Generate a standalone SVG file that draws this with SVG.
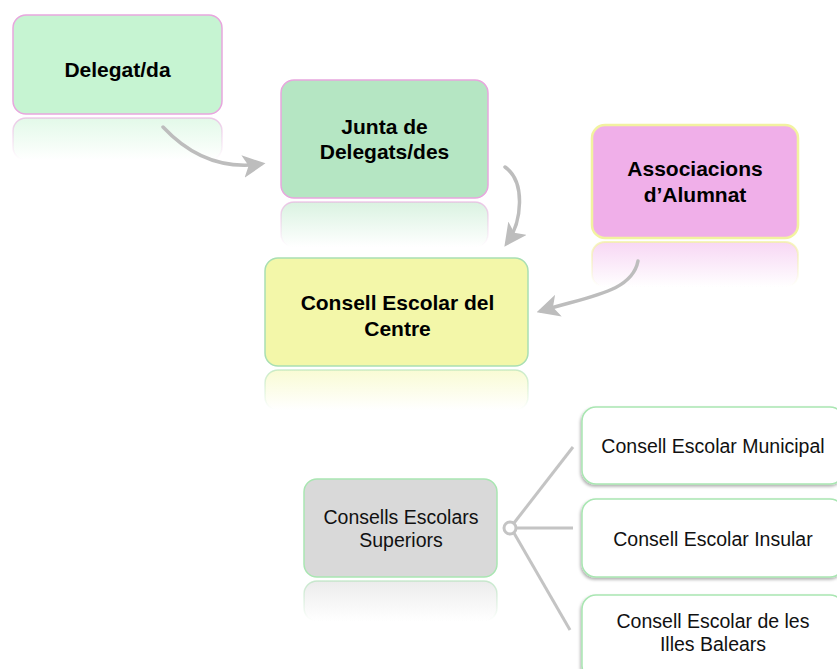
<svg xmlns="http://www.w3.org/2000/svg" width="837" height="669" viewBox="0 0 837 669">
<style>
.b{font-family:"Liberation Sans",Arial,sans-serif;font-weight:bold;font-size:21px;fill:#000;text-anchor:middle}
.n{font-family:"Liberation Sans",Arial,sans-serif;font-size:19.5px;fill:#111;text-anchor:middle}
.con{fill:none;stroke:#bdbdbd;stroke-width:3.5;stroke-linecap:round}
.ln{fill:none;stroke:#c4c4c4;stroke-width:3}
</style>
<defs>
<marker id="ah" viewBox="0 0 10 10" refX="8" refY="5" markerWidth="6.5" markerHeight="6.5" orient="auto" markerUnits="strokeWidth">
<path d="M0,0 L10,5 L0,10 L2.5,5 Z" fill="#bdbdbd"/>
</marker>
<filter id="sh" x="-10%" y="-10%" width="130%" height="140%">
<feDropShadow dx="-1" dy="2" stdDeviation="1.5" flood-color="#000" flood-opacity="0.3"/>
</filter>
<linearGradient id="rg1" x1="0" y1="0" x2="0" y2="1"><stop offset="0" stop-color="#c6f4d2" stop-opacity="0.5"/><stop offset="1" stop-color="#c6f4d2" stop-opacity="0"/></linearGradient>
<linearGradient id="rg2" x1="0" y1="0" x2="0" y2="1"><stop offset="0" stop-color="#b5e6c3" stop-opacity="0.5"/><stop offset="1" stop-color="#b5e6c3" stop-opacity="0"/></linearGradient>
<linearGradient id="rg3" x1="0" y1="0" x2="0" y2="1"><stop offset="0" stop-color="#f0afe9" stop-opacity="0.5"/><stop offset="1" stop-color="#f0afe9" stop-opacity="0"/></linearGradient>
<linearGradient id="rg4" x1="0" y1="0" x2="0" y2="1"><stop offset="0" stop-color="#f3f7a9" stop-opacity="0.5"/><stop offset="1" stop-color="#f3f7a9" stop-opacity="0"/></linearGradient>
<linearGradient id="rg5" x1="0" y1="0" x2="0" y2="1"><stop offset="0" stop-color="#d9d9d9" stop-opacity="0.5"/><stop offset="1" stop-color="#d9d9d9" stop-opacity="0"/></linearGradient>
<linearGradient id="sp" x1="0" y1="0" x2="0" y2="1"><stop offset="0" stop-color="#e8a6de" stop-opacity="0.6"/><stop offset="1" stop-color="#e8a6de" stop-opacity="0"/></linearGradient>
<linearGradient id="sy" x1="0" y1="0" x2="0" y2="1"><stop offset="0" stop-color="#f2f2a0" stop-opacity="0.7"/><stop offset="1" stop-color="#f2f2a0" stop-opacity="0"/></linearGradient>
<linearGradient id="sg" x1="0" y1="0" x2="0" y2="1"><stop offset="0" stop-color="#a9dfb2" stop-opacity="0.6"/><stop offset="1" stop-color="#a9dfb2" stop-opacity="0"/></linearGradient>
</defs>

<g id="reflections">
<rect x="13" y="118" width="209" height="42" rx="13" fill="url(#rg1)" stroke="url(#sp)" stroke-width="1.5"/>
<rect x="281" y="202" width="207" height="45" rx="13" fill="url(#rg2)" stroke="url(#sp)" stroke-width="1.5"/>
<rect x="592" y="242" width="206" height="45" rx="13" fill="url(#rg3)" stroke="url(#sy)" stroke-width="2"/>
<rect x="265" y="370" width="263" height="40" rx="13" fill="url(#rg4)" stroke="url(#sg)" stroke-width="1.5"/>
<rect x="304" y="581" width="193" height="40" rx="13" fill="url(#rg5)" stroke="url(#sg)" stroke-width="1.5"/>
</g>

<g id="connectors">
<path class="con" d="M163,127 Q205,172 261,164" marker-end="url(#ah)"/>
<path class="con" d="M505,167 C526,182 522,222 507,243" marker-end="url(#ah)"/>
<path class="con" d="M638,261 C632,292 590,296 541,311" marker-end="url(#ah)"/>
<circle class="ln" cx="510" cy="528" r="6"/>
<line class="ln" x1="514" y1="523" x2="573" y2="447"/>
<line class="ln" x1="516" y1="528" x2="573" y2="528"/>
<line class="ln" x1="514" y1="533" x2="570" y2="630"/>
</g>

<g id="n-delegat">
<rect x="13" y="15" width="209" height="99" rx="13" fill="#c6f4d2" stroke="#e8a6de" stroke-width="1.5"/>
<text class="b" x="117.5" y="77">Delegat/da</text>
</g>

<g id="n-junta">
<rect x="281" y="80" width="207" height="118" rx="13" fill="#b5e6c3" stroke="#e8a6de" stroke-width="1.5"/>
<text class="b" x="384.5" y="134">Junta de</text>
<text class="b" x="384.5" y="159">Delegats/des</text>
</g>

<g id="n-associacions">
<rect x="592" y="125" width="206" height="113" rx="13" fill="#f0afe9" stroke="#f2f2a0" stroke-width="2.5"/>
<text class="b" x="695" y="176">Associacions</text>
<text class="b" x="695" y="202">d’Alumnat</text>
</g>

<g id="n-centre">
<rect x="265" y="258" width="263" height="108" rx="13" fill="#f3f7a9" stroke="#a9dfb2" stroke-width="1.5"/>
<text class="b" x="397.5" y="310">Consell Escolar del</text>
<text class="b" x="397.5" y="336">Centre</text>
</g>

<g id="n-superiors">
<rect x="304" y="479" width="193" height="98" rx="13" fill="#d9d9d9" stroke="#a9e6b2" stroke-width="1.5"/>
<text class="n" x="401" y="524">Consells Escolars</text>
<text class="n" x="401" y="547">Superiors</text>
</g>

<g id="n-municipal">
<rect x="582" y="407" width="262" height="77" rx="14" fill="#fff" stroke="#a9e6b2" stroke-width="1.5" filter="url(#sh)"/>
<text class="n" x="713" y="453">Consell Escolar Municipal</text>
</g>

<g id="n-insular">
<rect x="582" y="499" width="262" height="78" rx="14" fill="#fff" stroke="#a9e6b2" stroke-width="1.5" filter="url(#sh)"/>
<text class="n" x="713" y="546">Consell Escolar Insular</text>
</g>

<g id="n-balears">
<rect x="582" y="595" width="262" height="85" rx="14" fill="#fff" stroke="#a9e6b2" stroke-width="1.5" filter="url(#sh)"/>
<text class="n" x="713" y="628">Consell Escolar de les</text>
<text class="n" x="713" y="651">Illes Balears</text>
</g>
</svg>
